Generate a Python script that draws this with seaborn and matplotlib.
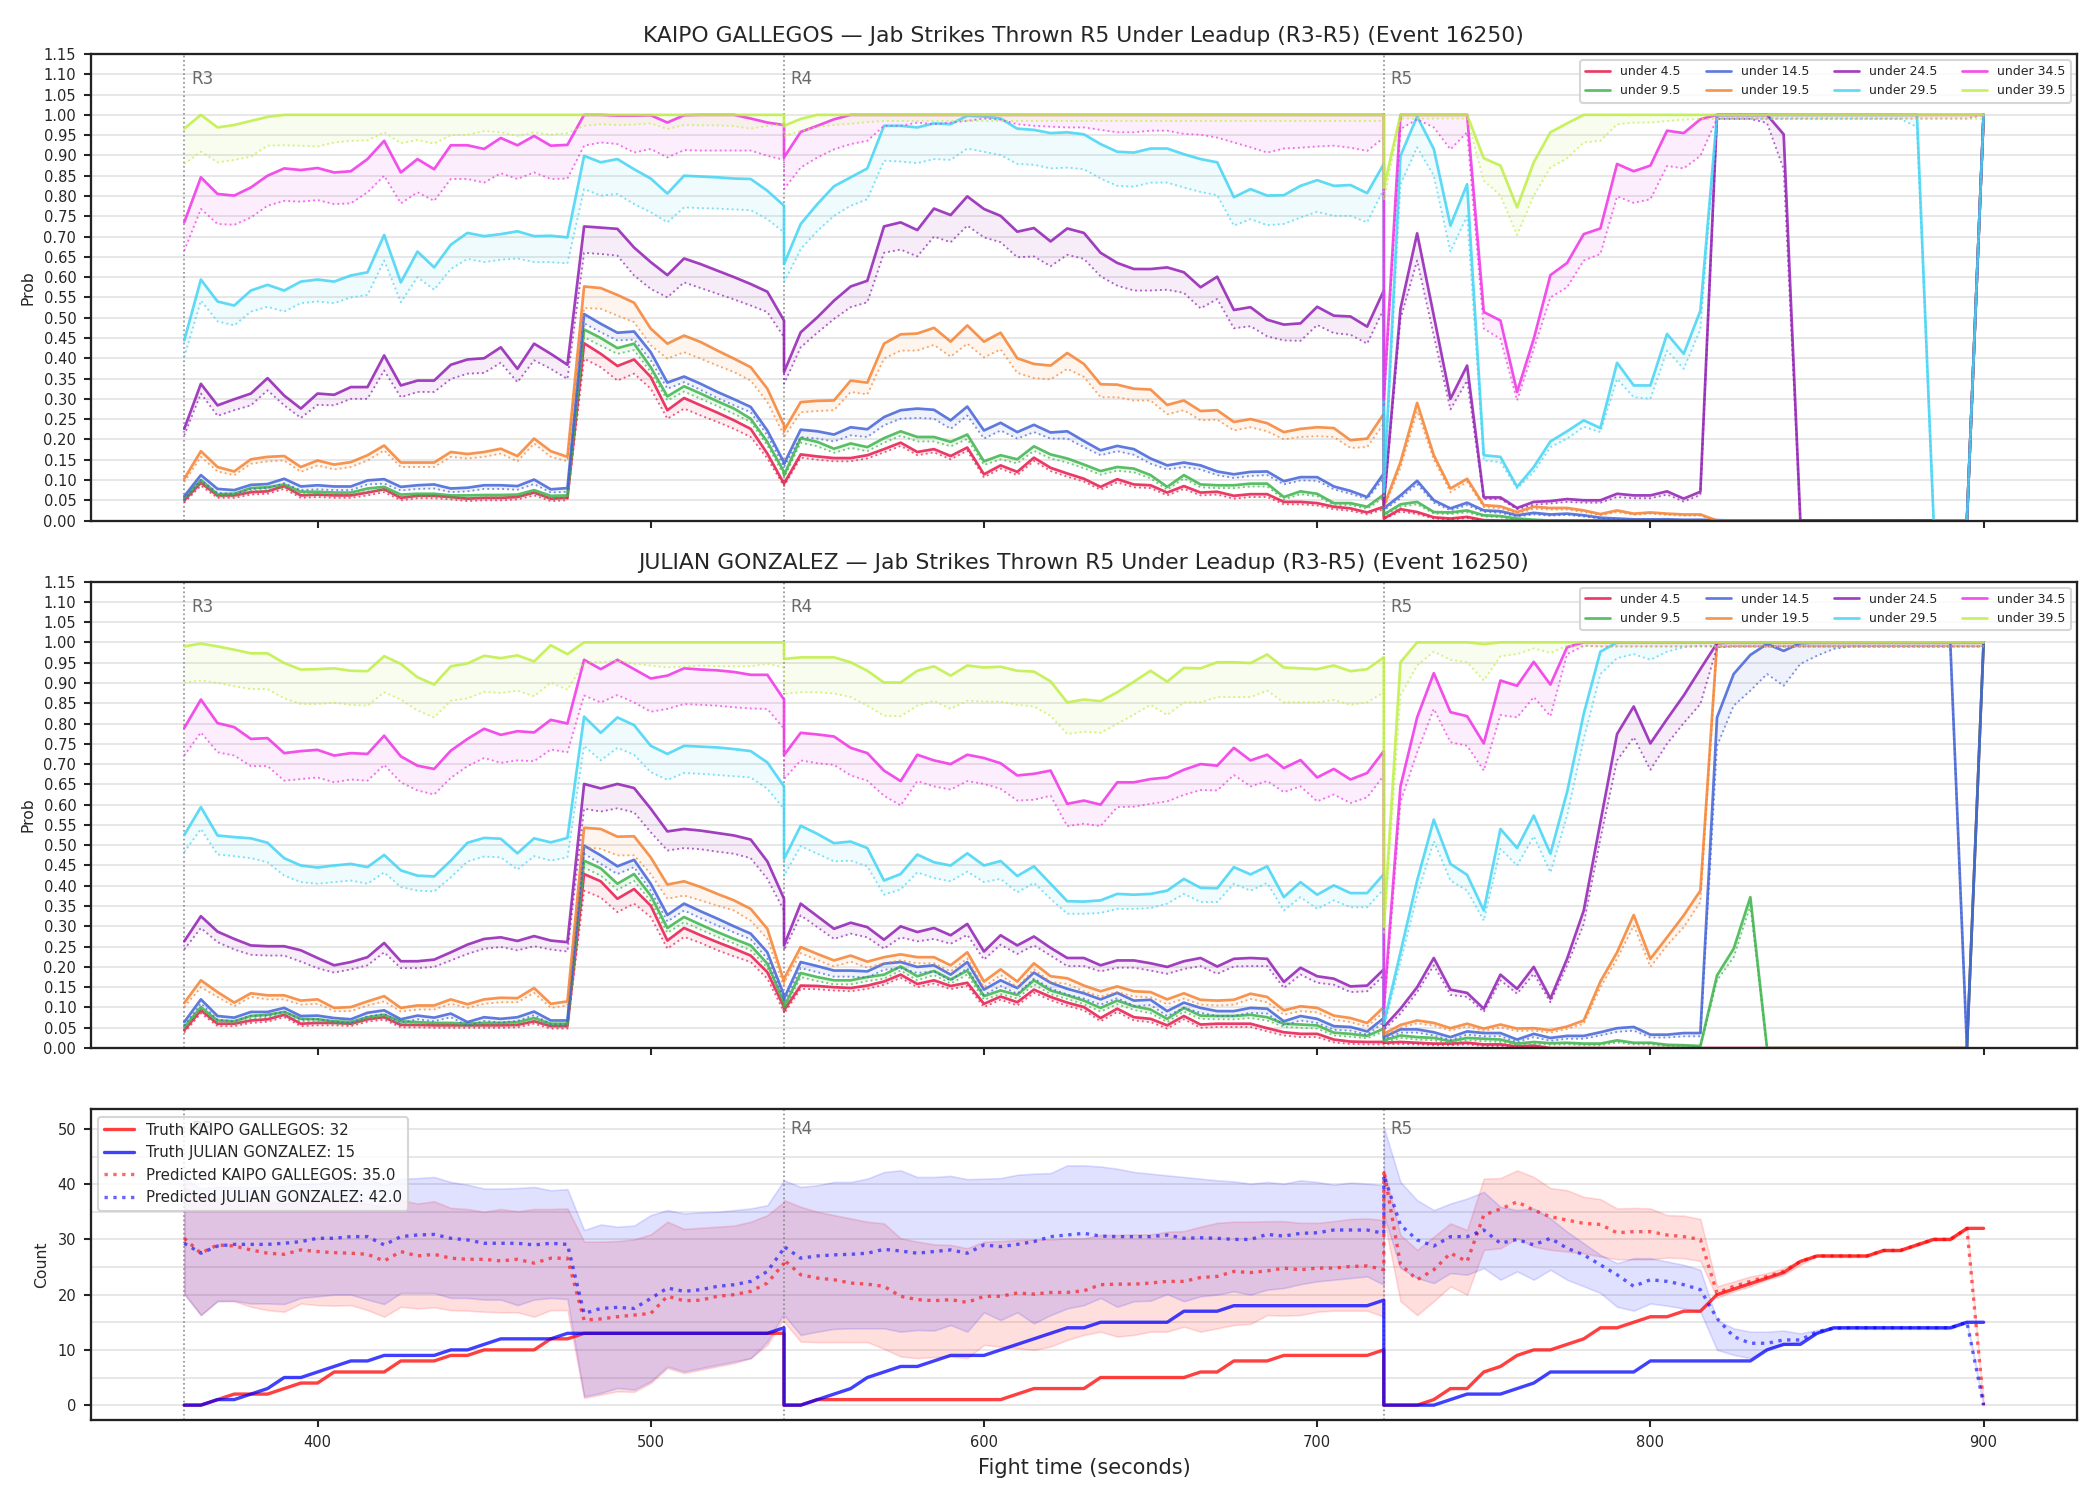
########################################################
# Required Python Packages
########################################################
import numpy as np
import matplotlib
matplotlib.use("Agg")
import matplotlib.pyplot as plt
import seaborn as sns
from matplotlib.transforms import blended_transform_factory

########################################################
# Chart data
########################################################
ROUND_STARTS = [360, 540, 720]
ROUND_NAMES = ["R3", "R4", "R5"]
ROUND_LEN = 180
STEP = 5

FIGHTER_A = "KAIPO GALLEGOS"
FIGHTER_B = "JULIAN GONZALEZ"
TITLE_TAIL = "Jab Strikes Thrown R5 Under Leadup (R3-R5) (Event 16250)"

THRESHOLDS = ["under 4.5", "under 9.5", "under 14.5", "under 19.5",
              "under 24.5", "under 29.5", "under 34.5", "under 39.5"]
COLORS = ["#e6194b", "#3cb44b", "#4363d8", "#f58231",
          "#911eb4", "#42d4f4", "#f032e6", "#bfef45"]

# probabilities, per mille, rounds R3 + R4 + R5 (37 points each)
KG_U4 = [50,93,62,62,70,72,85,62,64,62,62,69,77,56,61,61,58,54,56,56,58,69,54,56,437,411,381,397,354,272,302,284,266,247,226,165,91,
         91,163,158,154,154,161,176,192,169,176,159,180,114,136,120,155,130,116,103,83,102,89,87,69,85,69,71,61,65,65,46,46,43,34,30,20,34,
         5,28,21,8,5,9,1,0,0,0,0,0,0,0,0,0,0,0,0,0,0,0,0,0,0,0,0,0,0,0,0,0,0,0,0,0,1000]
KG_U4_LO = [44,86,56,56,64,66,78,56,58,56,56,62,70,50,55,55,52,48,50,50,52,62,48,50,399,378,345,362,325,251,276,259,243,226,206,153,85,
            85,155,150,146,146,153,168,184,161,168,151,172,107,128,112,147,122,108,96,76,94,82,80,62,78,62,64,54,58,58,40,40,37,28,24,15,28,
            4,22,16,5,3,6,0,0,0,0,0,0,0,0,0,0,0,0,0,0,0,0,0,0,0,0,0,0,0,0,0,0,0,0,0,0,1000]
KG_U9 = [55,100,65,66,80,82,89,71,71,69,69,79,83,64,66,66,62,62,63,63,64,75,61,62,471,450,425,436,378,306,331,313,294,276,251,194,120,
         112,203,194,177,190,181,203,220,206,206,194,212,146,161,151,183,163,153,138,122,132,128,112,83,112,89,87,87,91,91,58,72,66,43,43,34,64,
         15,40,46,21,20,25,13,11,5,2,0,0,0,0,0,0,0,0,0,0,0,0,0,0,0,0,0,0,0,0,0,0,0,0,0,0,1000]
KG_U9_LO = [49,93,59,60,73,75,82,65,65,63,63,72,76,58,60,60,56,56,57,57,58,68,55,56,452,431,411,420,366,296,318,300,282,263,243,185,112,
            105,192,183,167,179,171,192,209,195,195,183,201,137,151,141,172,153,143,129,113,123,119,104,76,104,82,80,80,84,84,52,65,60,38,38,29,57,
            12,34,40,17,16,20,10,8,3,1,0,0,0,0,0,0,0,0,0,0,0,0,0,0,0,0,0,0,0,0,0,0,0,0,0,0,1000]
KG_U14 = [60,112,78,75,88,90,103,84,87,84,84,99,102,83,87,89,79,81,87,87,85,101,77,80,509,485,463,466,415,340,355,337,317,299,280,222,143,
          140,224,220,212,230,225,255,272,276,273,247,281,222,241,218,236,217,220,196,173,184,176,153,136,143,136,121,114,120,121,97,107,107,84,73,58,116,
          30,62,98,50,30,44,25,23,13,19,15,17,13,7,5,3,3,3,2,2,1,0,0,0,0,0,0,0,0,0,0,0,0,0,0,0,1000]
KG_U14_LO = [50,100,68,66,78,80,92,75,77,75,75,89,91,74,78,79,70,72,78,78,76,90,69,71,486,464,444,446,395,325,341,322,302,284,267,210,132,
             132,206,202,195,210,206,235,251,253,251,226,259,202,222,202,218,202,202,181,161,171,162,140,126,132,126,112,105,110,112,89,99,98,77,66,53,105,
             25,55,90,44,25,38,21,19,10,15,12,14,10,5,3,2,2,2,1,1,0,0,0,0,0,0,0,0,0,0,0,0,0,0,0,0,1000]
KG_U19 = [103,171,132,121,151,157,159,132,148,138,144,161,185,143,143,143,169,164,169,177,159,202,171,157,577,573,556,537,473,436,456,440,419,399,378,325,235,
          222,292,295,296,345,340,436,459,461,475,441,481,441,463,400,386,382,413,386,336,335,325,323,285,296,270,272,243,250,240,218,226,230,228,198,202,263,
          35,144,290,161,79,103,38,35,21,34,31,31,25,16,25,17,20,17,15,15,0,0,0,0,0,0,0,0,0,0,0,0,0,0,0,0,1000]
KG_U19_LO = [95,157,121,112,140,146,148,120,136,126,132,148,173,132,132,132,157,153,157,165,146,190,157,146,524,522,505,489,432,399,415,399,382,366,345,292,210,
             206,267,270,272,317,311,399,419,419,433,404,436,402,422,364,351,348,374,354,304,304,296,296,262,272,247,249,222,230,220,200,206,208,206,179,181,239,
             30,130,270,150,70,95,33,30,17,29,27,27,21,13,21,14,17,14,12,12,0,0,0,0,0,0,0,0,0,0,0,0,0,0,0,0,1000]
KG_U24 = [226,337,284,299,313,351,308,276,313,310,329,329,407,333,345,345,384,397,400,427,374,436,411,384,725,722,719,673,637,605,646,632,616,600,583,564,493,
          366,464,501,542,577,591,725,735,716,769,753,799,768,751,712,721,688,720,709,660,635,620,620,624,612,575,601,519,526,495,483,486,527,505,503,478,567,
          40,522,708,505,300,382,57,57,31,46,48,53,50,50,66,62,62,72,54,71,1000,1000,1000,1000,952,0,0,0,0,0,0,0,0,0,0,0,1000]
KG_U24_LO = [210,313,258,272,284,321,284,253,285,284,300,300,370,304,317,317,349,362,364,389,341,395,374,349,660,657,653,604,571,550,587,573,559,545,530,514,452,
             337,427,463,497,526,538,660,668,651,700,686,727,698,686,649,651,627,655,645,602,579,567,567,569,561,523,546,474,479,454,444,443,482,462,458,436,522,
             35,497,641,456,274,345,53,53,28,39,42,46,44,44,58,55,55,64,47,63,990,990,990,980,866,0,0,0,0,0,0,0,0,0,0,0,1000]
KG_U29 = [444,594,540,530,567,581,567,589,594,589,604,612,704,587,663,624,680,709,701,706,713,701,702,698,899,883,891,866,843,806,850,848,846,843,842,813,776,
          632,731,780,824,846,868,973,973,969,979,977,998,996,991,966,963,955,957,952,928,909,907,917,917,903,891,883,797,817,801,802,825,839,825,827,807,879,
          70,899,996,916,727,829,161,157,83,132,195,220,247,228,389,333,333,460,411,517,1000,1000,1000,1000,1000,1000,1000,1000,1000,1000,1000,1000,1000,0,0,0,1000]
KG_U29_LO = [403,542,491,481,515,527,515,536,540,536,550,556,641,538,600,569,620,645,637,643,646,637,637,634,817,801,805,780,760,735,772,770,769,767,765,743,710,
             587,669,714,751,776,792,887,885,881,891,889,917,909,901,879,877,868,870,866,843,825,823,833,833,821,810,802,727,743,728,731,747,761,751,751,735,817,
             60,829,920,850,663,751,148,144,79,120,181,202,231,218,349,304,300,419,374,472,990,990,990,990,990,990,990,990,990,990,990,990,970,0,0,0,1000]
KG_U34 = [735,846,805,801,821,850,868,864,869,858,861,891,936,858,891,866,925,925,916,943,925,948,924,926,1000,1000,998,998,999,981,999,1000,1000,1000,991,981,975,
          895,958,973,989,1000,1000,1000,1000,1000,1000,1000,1000,1000,1000,1000,1000,1000,1000,1000,1000,1000,1000,1000,1000,1000,1000,1000,1000,1000,1000,1000,1000,1000,1000,1000,1000,1000,
          300,1000,1000,1000,1000,1000,514,493,317,448,605,635,706,720,879,861,875,961,955,989,1000,1000,1000,1000,1000,1000,1000,1000,1000,1000,1000,1000,1000,1000,1000,1000,1000]
KG_U34_LO = [665,768,731,729,747,776,788,786,790,780,782,809,850,782,809,788,842,842,833,856,842,858,842,843,924,932,928,907,916,895,913,912,912,912,912,899,889,
             817,870,895,915,928,936,973,973,981,977,981,985,991,988,977,973,971,969,969,963,957,957,961,961,953,951,944,932,920,907,917,919,922,924,919,911,944,
             280,965,989,969,915,957,473,448,296,423,550,575,641,657,799,783,792,874,868,899,991,991,991,991,991,991,991,991,991,991,991,991,991,991,991,991,1000]
KG_U39 = [966,1000,969,975,985,995,1000,1000,1000,1000,1000,1000,1000,1000,1000,1000,1000,1000,1000,1000,1000,1000,1000,1000,1000,1000,1000,1000,1000,1000,1000,1000,1000,1000,1000,1000,1000,
          973,990,1000,1000,1000,1000,1000,1000,1000,1000,1000,1000,1000,1000,1000,1000,1000,1000,1000,1000,1000,1000,1000,1000,1000,1000,1000,1000,1000,1000,1000,1000,1000,1000,1000,1000,1000,
          820,1000,1000,1000,1000,1000,893,875,772,883,957,979,1000,1000,1000,1000,1000,1000,1000,1000,1000,1000,1000,1000,1000,1000,1000,1000,1000,1000,1000,1000,1000,1000,1000,1000,1000]
KG_U39_LO = [879,909,883,889,897,924,925,924,922,932,936,937,957,930,938,929,950,951,960,957,948,957,951,955,973,977,975,976,979,965,975,974,974,972,966,973,977,
             948,960,970,975,978,982,985,985,985,985,985,985,985,985,985,985,985,985,985,985,985,985,985,985,985,985,985,985,985,985,985,985,985,985,985,985,985,
             790,991,991,991,991,991,838,801,704,801,870,893,932,936,977,981,981,985,988,990,990,990,990,990,990,990,990,990,990,990,990,990,990,990,990,990,990]

JG_U4 = [44,93,60,60,68,71,82,60,62,62,60,71,76,57,57,56,56,56,56,56,57,66,54,54,429,411,368,392,351,265,296,278,261,245,228,187,101,
         93,154,153,150,148,154,164,181,158,167,153,161,109,127,113,144,126,112,101,74,97,76,72,56,79,58,60,60,60,49,39,35,35,21,16,15,15,
         13,15,13,11,11,13,9,9,4,6,0,0,0,0,0,0,0,0,0,0,0,0,0,0,0,0,0,0,0,0,0,0,0,0,0,0,1000]
JG_U4_LO = [38,86,54,54,62,65,76,54,56,56,54,65,70,51,51,50,50,50,50,50,51,60,48,48,388,371,335,356,323,245,274,259,241,226,212,171,89,
            85,146,145,142,140,146,156,173,150,159,145,153,101,119,105,136,118,104,93,66,89,68,64,48,71,50,52,52,52,41,31,27,27,14,10,9,9,
            9,10,9,7,7,9,5,5,2,3,0,0,0,0,0,0,0,0,0,0,0,0,0,0,0,0,0,0,0,0,0,0,0,0,0,0,1000]
JG_U9 = [52,101,68,66,79,82,89,72,71,66,64,76,82,66,64,62,62,60,62,62,64,74,60,60,462,443,405,429,376,296,323,304,286,269,253,208,113,
         101,185,175,167,167,175,181,201,177,190,169,191,128,142,131,167,142,130,117,99,117,103,95,72,99,80,79,79,82,76,60,58,56,38,35,30,48,
         19,31,27,25,17,25,23,21,11,15,12,13,11,11,19,13,13,8,7,5,179,245,372,0,0,0,0,0,0,0,0,0,0,0,0,0,1000]
JG_U9_LO = [46,94,62,60,73,76,82,66,65,60,58,70,76,60,58,56,56,54,56,56,58,68,54,54,445,425,390,412,362,284,310,292,274,258,241,198,106,
            93,175,165,157,157,165,171,191,167,180,159,181,119,133,122,157,133,121,108,90,108,94,86,64,90,72,71,71,74,68,52,50,48,31,28,24,41,
            14,25,21,19,12,19,17,15,7,10,8,9,7,7,14,9,9,5,4,3,167,224,351,0,0,0,0,0,0,0,0,0,0,0,0,0,1000]
JG_U14 = [64,120,79,75,89,89,99,79,80,74,71,87,93,71,80,75,85,64,76,72,76,90,68,68,499,475,448,464,405,328,356,337,319,300,282,236,130,
          122,212,202,191,191,189,208,212,200,204,181,212,144,167,148,186,161,146,135,120,136,117,119,91,112,99,91,91,99,97,66,79,72,54,52,41,74,
          27,46,46,39,27,41,37,37,21,35,25,30,30,39,49,52,33,33,37,37,815,922,969,996,979,998,1000,1000,1000,1000,1000,1000,1000,1000,1000,0,1000]
JG_U14_LO = [55,110,70,66,80,80,90,70,71,65,62,78,84,62,71,66,76,55,67,63,67,81,59,59,479,454,429,446,388,312,339,320,302,285,268,220,120,
             112,197,187,176,176,174,193,197,185,189,166,197,131,153,134,171,147,132,122,107,123,104,106,79,99,87,79,79,87,85,56,68,62,45,43,33,64,
             22,38,38,31,20,33,29,29,15,27,18,23,23,31,40,43,26,26,29,29,745,844,881,922,893,947,967,984,990,990,990,990,990,990,990,0,1000]
JG_U19 = [111,167,138,112,135,130,130,117,120,99,101,115,128,99,105,105,120,108,120,124,123,148,109,115,543,540,521,522,470,403,411,397,380,364,343,294,164,
          171,249,232,216,228,213,224,231,224,224,204,236,164,194,164,209,177,172,154,140,152,140,138,120,135,119,117,119,134,126,93,103,99,80,74,62,101,
          35,57,68,62,49,60,48,58,48,49,44,53,68,164,236,328,220,273,327,388,1000,1000,1000,1000,1000,1000,1000,1000,1000,1000,1000,1000,1000,1000,1000,1000,1000]
JG_U19_LO = [101,150,126,103,126,120,120,107,109,91,91,105,115,90,95,95,109,99,109,113,113,136,99,105,495,491,475,475,429,368,376,364,351,339,314,269,150,
             160,234,217,201,213,198,209,216,209,209,189,221,150,180,150,194,163,158,140,127,138,127,125,108,122,107,105,107,121,113,82,91,88,70,64,53,89,
             30,50,61,55,43,53,42,51,42,43,38,47,60,150,220,302,200,253,298,360,988,990,990,990,990,990,990,990,990,990,990,990,990,990,990,990,990]
JG_U24 = [263,325,287,269,253,251,251,241,222,204,212,224,259,214,214,218,236,255,269,273,264,276,265,261,651,640,651,641,590,534,540,536,530,524,514,460,368,
          253,356,325,294,309,298,267,300,286,296,278,306,238,278,253,275,247,222,222,204,216,216,209,200,214,222,201,220,222,220,163,198,177,171,152,154,194,
          52,97,150,222,144,136,97,181,146,200,122,220,339,557,774,842,751,811,869,934,998,1000,1000,1000,1000,1000,1000,1000,1000,1000,1000,1000,1000,1000,1000,1000,1000]
JG_U24_LO = [243,296,261,243,230,228,228,213,197,186,194,204,236,197,197,200,216,232,245,249,241,251,243,238,590,583,591,581,532,487,493,490,484,479,468,417,339,
             241,327,298,269,282,273,245,273,263,269,257,279,218,255,232,253,228,202,202,189,198,198,191,183,195,202,183,201,202,202,148,181,161,156,138,140,179,
             45,85,138,204,131,126,89,167,134,183,113,204,306,516,709,766,686,750,801,848,988,990,990,990,990,990,990,990,990,990,990,990,990,990,990,990,990]
JG_U29 = [525,594,524,520,517,506,468,450,445,450,454,446,476,438,425,423,462,506,518,516,480,517,507,518,817,777,815,796,745,725,745,743,741,737,732,704,645,
          466,548,528,505,509,493,413,429,477,458,450,480,450,461,424,448,405,362,361,364,380,378,380,388,417,395,394,446,428,448,372,409,378,401,382,382,429,
          60,236,413,563,454,427,339,540,493,573,479,631,824,977,1000,1000,1000,1000,1000,1000,1000,1000,1000,1000,1000,1000,1000,1000,1000,1000,1000,1000,1000,1000,1000,1000,1000]
JG_U29_LO = [483,540,477,473,468,458,425,409,405,409,413,405,433,397,388,386,421,460,472,470,440,473,462,470,745,709,740,723,680,661,678,676,673,670,667,639,589,
             425,498,479,460,462,448,378,391,433,419,411,435,409,417,384,407,368,331,331,333,343,343,345,356,380,360,360,405,388,407,339,372,343,364,347,347,392,
             50,212,376,510,413,388,314,491,450,522,433,573,762,922,961,971,957,977,988,992,990,990,990,990,990,990,990,990,990,990,990,990,990,990,990,990,990]
JG_U34 = [789,859,801,791,762,764,727,732,735,721,727,725,770,719,696,688,733,762,787,772,781,778,809,800,957,934,957,934,911,918,936,933,931,927,920,920,859,
          722,777,773,768,740,727,684,658,723,709,700,723,715,702,672,676,684,602,610,600,655,655,663,667,686,700,696,740,709,723,690,710,667,688,662,678,732,
          100,645,815,924,828,818,751,906,893,952,896,988,1000,1000,1000,1000,1000,1000,1000,1000,1000,1000,1000,1000,1000,1000,1000,1000,1000,1000,1000,1000,1000,1000,1000,1000,1000]
JG_U34_LO = [721,778,729,721,695,695,659,663,667,655,662,659,698,655,635,625,666,695,715,703,709,707,736,729,869,852,870,852,829,836,848,846,844,840,837,836,787,
             663,709,702,698,672,659,622,598,658,645,637,658,651,639,610,612,622,547,553,547,594,595,602,608,624,636,635,673,645,658,631,645,608,625,604,618,672,
             80,606,729,836,754,745,684,821,815,865,818,971,992,990,990,990,990,990,990,990,990,990,990,990,990,990,990,990,990,990,990,990,990,990,990,990,990]
JG_U39 = [990,997,990,982,973,973,949,933,934,936,930,929,966,947,914,896,941,948,967,961,968,953,993,971,1000,1000,1000,1000,1000,1000,1000,1000,1000,1000,1000,1000,1000,
          959,963,963,963,951,930,901,901,930,941,918,943,938,940,930,928,904,852,859,855,877,903,930,903,937,936,951,951,949,970,938,936,934,943,929,934,963,
          300,951,1000,1000,1000,1000,996,1000,1000,1000,1000,1000,1000,1000,1000,1000,1000,1000,1000,1000,1000,1000,1000,1000,1000,1000,1000,1000,1000,1000,1000,1000,1000,1000,1000,1000,1000]
JG_U39_LO = [901,906,900,892,885,885,862,848,848,851,846,844,877,859,832,815,856,862,878,875,881,867,901,883,951,951,955,947,943,938,940,943,941,941,941,947,938,
             873,877,877,874,865,844,819,818,844,856,836,856,854,854,846,842,819,774,780,777,799,822,846,821,852,852,865,865,865,881,852,852,852,858,846,852,877,
             280,869,943,977,957,951,906,966,971,985,974,992,990,990,990,990,990,990,990,990,990,990,990,990,990,990,990,990,990,990,990,990,990,990,990,990,990]

# counts (bottom panel)
KG_TRUTH = [0,0,1,2,2,2,3,4,4,6,6,6,6,8,8,8,9,9,10,10,10,10,12,12,13,13,13,13,13,13,13,13,13,13,13,13,13,
            0,0,1,1,1,1,1,1,1,1,1,1,1,1,2,3,3,3,3,5,5,5,5,5,5,6,6,8,8,8,9,9,9,9,9,9,10,
            0,0,0,1,3,3,6,7,9,10,10,11,12,14,14,15,16,16,17,17,20,21,22,23,24,26,27,27,27,27,28,28,29,30,30,32,32]
JG_TRUTH = [0,0,1,1,2,3,5,5,6,7,8,8,9,9,9,9,10,10,11,12,12,12,12,13,13,13,13,13,13,13,13,13,13,13,13,13,14,
            0,0,1,2,3,5,6,7,7,8,9,9,9,10,11,12,13,14,14,15,15,15,15,15,17,17,17,18,18,18,18,18,18,18,18,18,19,
            0,0,0,0,1,2,2,2,3,4,6,6,6,6,6,6,8,8,8,8,8,8,8,10,11,11,13,14,14,14,14,14,14,14,14,15,15]
KG_PRED = [30.2,27.5,29.0,28.8,28.1,27.5,27.3,28.1,27.8,27.6,27.5,27.3,26.1,27.8,27.0,27.3,26.6,26.4,26.4,26.1,26.4,25.7,26.6,26.6,15.4,15.6,16.0,16.3,16.6,19.7,18.9,19.0,19.7,20.0,20.6,22.1,25.7,
           26.3,23.6,23.0,22.7,22.1,21.9,21.5,19.7,19.1,18.9,19.1,18.6,19.7,19.7,20.3,20.1,20.4,20.4,20.7,21.8,21.9,21.9,22.1,22.4,22.4,23.1,23.3,24.2,24.0,24.3,24.8,24.5,24.8,24.8,25.1,25.2,24.5,
           42.5,25.5,22.7,24.5,27.5,26.0,34.4,35.5,36.8,35.3,34.1,33.5,32.9,32.7,31.2,31.4,31.4,30.8,30.5,30.0,20.3,21.5,22.4,23.3,24.2,26.0,27.0,27.0,27.0,27.0,28.0,28.0,29.0,30.0,30.0,32.0,0.0]
JG_PRED = [29.3,27.5,28.8,29.1,29.1,29.1,29.3,29.6,30.2,30.2,30.5,30.5,29.0,30.5,30.8,30.9,30.2,29.9,29.3,29.3,29.3,29.0,29.3,29.1,16.6,17.5,17.7,17.5,19.3,21.2,20.6,20.9,21.5,21.8,22.4,24.2,28.4,
           28.7,26.6,27.0,27.2,27.3,27.5,28.2,27.9,27.5,27.8,28.1,27.5,29.0,28.7,29.1,29.6,30.5,30.8,31.1,30.6,30.5,30.5,30.5,30.8,30.2,30.3,30.2,30.0,30.0,30.9,30.6,31.1,31.2,31.7,31.7,31.7,31.1,
           41.6,32.6,29.9,28.8,30.5,30.5,31.7,29.3,30.0,29.0,30.2,28.4,27.2,25.4,23.6,21.5,22.7,22.4,21.8,20.9,15.7,12.4,11.2,11.2,11.8,11.8,13.3,13.9,14.0,14.0,14.0,14.0,14.0,14.0,14.0,15.0,0.0]
KG_HI = [39.5,37.4,37.4,37.4,36.8,36.8,36.5,36.8,36.8,36.8,36.8,36.5,35.9,37.1,36.5,36.9,35.7,35.5,35.0,35.5,35.1,35.5,35.5,35.6,29.6,29.6,29.7,30.0,30.9,33.2,31.9,32.1,32.3,32.5,33.2,34.4,36.8,
         37.1,35.9,35.0,34.4,33.8,33.2,32.9,30.2,29.6,29.1,29.0,28.4,29.6,29.7,29.9,30.0,30.0,30.2,30.2,30.8,30.8,30.9,30.9,31.4,31.5,32.3,33.0,33.2,33.2,33.3,33.3,33.0,33.0,33.3,33.7,33.8,33.5,
         42.8,30.8,28.1,30.5,32.9,31.7,41.0,41.1,42.5,41.3,39.3,38.9,37.7,37.3,35.6,35.7,35.6,34.4,34.3,33.7,21.5,22.4,23.3,23.9,24.8,26.3,27.2,27.2,27.2,27.2,28.2,28.2,29.2,30.2,30.2,32.2,0.0]
KG_LO = [20.3,16.3,18.9,18.8,17.8,17.2,16.9,18.4,18.1,18.0,18.1,17.2,16.0,17.8,17.5,17.7,17.2,17.1,16.9,16.8,16.8,16.0,17.2,17.2,1.3,1.9,2.5,2.4,4.0,6.7,5.8,6.4,7.0,7.6,8.5,10.9,15.7,
         15.1,11.5,11.4,11.4,11.4,11.4,10.2,8.8,8.5,8.7,8.8,8.5,10.9,10.6,10.3,10.0,10.6,11.8,12.7,13.3,12.4,12.7,13.3,13.3,14.2,13.3,13.9,14.5,14.7,16.3,16.2,16.3,16.9,17.1,17.1,17.1,16.0,
         33.8,18.8,16.3,18.8,21.5,20.0,28.1,28.4,30.2,28.7,28.1,27.8,27.5,26.9,26.4,26.4,26.4,26.7,26.6,26.1,19.4,20.6,21.5,22.7,23.6,25.4,26.9,26.8,26.8,26.8,27.8,27.8,28.8,29.8,29.8,31.8,0.0]
JG_HI = [41.0,39.2,39.5,39.5,39.5,39.5,39.7,40.1,40.1,40.5,40.9,41.1,39.8,41.0,41.1,41.3,40.4,39.9,39.2,39.2,39.3,39.5,38.9,39.1,31.7,32.7,32.3,32.5,34.4,35.3,34.7,34.9,35.0,35.3,35.6,36.2,40.7,
         40.7,39.5,39.8,40.4,40.4,41.0,42.2,42.5,41.3,41.3,41.5,40.9,41.0,41.1,41.7,41.9,42.0,43.4,43.4,43.2,42.8,42.2,41.9,41.6,41.3,41.0,40.7,40.5,40.1,40.4,40.1,40.7,40.4,39.9,40.3,40.1,39.8,
         50.3,40.4,37.1,35.3,36.5,37.4,38.6,35.9,35.3,35.6,33.8,31.4,29.3,27.2,25.7,26.6,26.6,26.0,25.4,24.5,15.4,13.9,13.3,13.3,13.5,13.0,13.6,14.2,14.2,14.2,14.2,14.2,14.2,14.2,14.2,15.2,0.0]
JG_LO = [20.0,16.3,18.8,18.9,18.4,18.4,18.3,19.4,19.7,20.0,20.0,19.1,18.3,20.3,20.3,20.3,19.4,19.4,19.1,19.1,18.1,19.1,19.4,19.2,1.6,2.2,3.1,2.8,4.3,7.0,6.1,6.7,7.3,7.9,8.5,11.5,16.6,
         16.3,12.7,13.3,13.8,13.9,13.9,13.9,13.3,13.6,13.5,14.5,13.3,16.8,15.4,16.8,14.8,16.3,17.5,18.1,19.4,17.8,18.8,18.9,20.1,18.8,19.7,20.0,20.6,20.0,20.9,21.2,21.9,22.4,22.7,23.0,23.3,21.8,
         34.4,24.8,23.0,22.1,23.9,23.6,24.8,22.7,24.2,22.7,24.5,22.7,21.5,20.3,17.8,17.1,18.4,18.0,17.5,16.9,10.0,9.1,8.5,10.3,10.9,11.5,13.0,13.8,13.8,13.8,13.8,13.8,13.8,13.8,13.8,14.8,0.0]
KG_PRED_FINAL = 35.0
JG_PRED_FINAL = 42.0

########################################################
# Helpers
########################################################
def TimeAxis():
    return np.concatenate([np.arange(s, s + ROUND_LEN + 1, STEP) for s in ROUND_STARTS])


def MarkRounds(ax):
    trans = blended_transform_factory(ax.transData, ax.transAxes)
    for start, name in zip(ROUND_STARTS, ROUND_NAMES):
        ax.axvline(start, color="gray", ls=":", lw=0.8, alpha=0.9, zorder=1)
        ax.text(start + 2, 0.965, name, transform=trans, color="dimgray",
                fontsize=8, va="top", ha="left", zorder=1)


def PlotProbPanel(ax, t, fighter, solids, lowers):
    for name, color, hi, lo in zip(THRESHOLDS, COLORS, solids, lowers):
        hi = np.asarray(hi) / 1000.0
        lo = np.asarray(lo) / 1000.0
        ax.fill_between(t, lo, hi, color=color, alpha=0.08, lw=0)
        sns.lineplot(x=t, y=hi, ax=ax, color=color, lw=1.3, alpha=0.85,
                     label=name, estimator=None, sort=False)
        sns.lineplot(x=t, y=lo, ax=ax, color=color, lw=0.9, alpha=0.7,
                     ls=":", estimator=None, sort=False)
    ax.set_ylim(0, 1.15)
    ax.set_yticks(np.round(np.arange(0, 1.151, 0.05), 2))
    ax.yaxis.set_major_formatter(matplotlib.ticker.FormatStrFormatter("%.2f"))
    ax.grid(axis="y", color="#e3e3e3", lw=0.8)
    ax.set_axisbelow(True)
    ax.set_ylabel("Prob", fontsize=7.5)
    ax.set_xlabel("")
    ax.set_title(f"{fighter} \u2014 {TITLE_TAIL}", fontsize=10.5)
    MarkRounds(ax)
    ax.legend(loc="upper right", ncol=4, fontsize=6, framealpha=0.8)


def PlotCountPanel(ax, t):
    ax.fill_between(t, KG_LO, KG_HI, color="red", alpha=0.13, lw=0.8)
    ax.fill_between(t, JG_LO, JG_HI, color="blue", alpha=0.12, lw=0.8)
    sns.lineplot(x=t, y=KG_TRUTH, ax=ax, color="red", lw=1.6, alpha=0.75,
                 label=f"Truth {FIGHTER_A}: {KG_TRUTH[-1]}", estimator=None, sort=False)
    sns.lineplot(x=t, y=JG_TRUTH, ax=ax, color="blue", lw=1.6, alpha=0.75,
                 label=f"Truth {FIGHTER_B}: {JG_TRUTH[-1]}", estimator=None, sort=False)
    sns.lineplot(x=t, y=KG_PRED, ax=ax, color="red", lw=1.6, alpha=0.6, ls=":",
                 label=f"Predicted {FIGHTER_A}: {KG_PRED_FINAL}", estimator=None, sort=False)
    sns.lineplot(x=t, y=JG_PRED, ax=ax, color="blue", lw=1.6, alpha=0.6, ls=":",
                 label=f"Predicted {FIGHTER_B}: {JG_PRED_FINAL}", estimator=None, sort=False)
    ax.set_ylim(-2.7, 53.6)
    ax.set_yticks(np.arange(0, 51, 10))
    ax.set_yticks(np.arange(5, 51, 10), minor=True)
    ax.tick_params(axis="y", which="minor", length=0)
    ax.grid(axis="y", which="both", color="#e3e3e3", lw=0.8)
    ax.set_axisbelow(True)
    ax.set_ylabel("Count", fontsize=7.5)
    ax.set_xlabel("Fight time (seconds)", fontsize=10)
    MarkRounds(ax)
    leg = ax.legend(loc="upper left", fontsize=7.2, framealpha=0.8)
    leg.set_zorder(5)


########################################################
# Main
########################################################
def main():
    sns.set_style("ticks", {"axes.edgecolor": "#222222"})
    plt.rcParams["font.family"] = ["DejaVu Sans"]
    plt.rcParams["axes.linewidth"] = 1.1

    t = TimeAxis()
    for arr in [KG_U4, KG_U4_LO, KG_U9, KG_U9_LO, KG_U14, KG_U14_LO, KG_U19, KG_U19_LO,
                KG_U24, KG_U24_LO, KG_U29, KG_U29_LO, KG_U34, KG_U34_LO, KG_U39, KG_U39_LO,
                JG_U4, JG_U4_LO, JG_U9, JG_U9_LO, JG_U14, JG_U14_LO, JG_U19, JG_U19_LO,
                JG_U24, JG_U24_LO, JG_U29, JG_U29_LO, JG_U34, JG_U34_LO, JG_U39, JG_U39_LO,
                KG_TRUTH, JG_TRUTH, KG_PRED, JG_PRED, KG_HI, KG_LO, JG_HI, JG_LO]:
        assert len(arr) == len(t), len(arr)

    fig, axes = plt.subplots(3, 1, figsize=(14, 10), dpi=150, sharex=True,
                             gridspec_kw={"height_ratios": [1.5, 1.5, 1]})
    fig.subplots_adjust(left=0.0433, right=0.989, top=0.964, bottom=0.0533, hspace=0.147)

    PlotProbPanel(axes[0], t, FIGHTER_A,
                  [KG_U4, KG_U9, KG_U14, KG_U19, KG_U24, KG_U29, KG_U34, KG_U39],
                  [KG_U4_LO, KG_U9_LO, KG_U14_LO, KG_U19_LO, KG_U24_LO, KG_U29_LO, KG_U34_LO, KG_U39_LO])
    PlotProbPanel(axes[1], t, FIGHTER_B,
                  [JG_U4, JG_U9, JG_U14, JG_U19, JG_U24, JG_U29, JG_U34, JG_U39],
                  [JG_U4_LO, JG_U9_LO, JG_U14_LO, JG_U19_LO, JG_U24_LO, JG_U29_LO, JG_U34_LO, JG_U39_LO])
    PlotCountPanel(axes[2], t)

    for ax in axes:
        ax.tick_params(labelsize=7, length=3.5, width=1)
    axes[2].set_xlim(332, 928)

    fig.savefig("out.png", dpi=150)


if __name__ == "__main__":
    main()
